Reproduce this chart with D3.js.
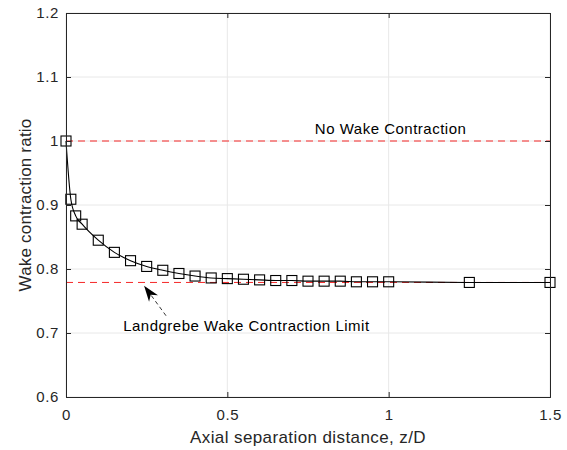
<!DOCTYPE html>
<html>
<head>
<meta charset="utf-8">
<script src="https://cdn.jsdelivr.net/npm/d3@7"></script>
<style>
  body { margin: 0; background: #fff; }
  svg text { font-family: "Liberation Sans", Arial, Helvetica, sans-serif; }
</style>
</head>
<body>
<div id="chart"></div>
<script>
// values
const zD = [0, 0.015, 0.03, 0.05, 0.1, 0.15, 0.2, 0.25, 0.3, 0.35, 0.4, 0.45, 0.5, 0.55, 0.6,
            0.65, 0.7, 0.75, 0.8, 0.85, 0.9, 0.95, 1.0, 1.25, 1.5];
const ratio = [1.0, 0.909, 0.883, 0.870, 0.845, 0.826, 0.813, 0.804, 0.798, 0.793, 0.789, 0.786,
               0.785, 0.784, 0.783, 0.782, 0.782, 0.781, 0.781, 0.781, 0.780, 0.780, 0.780, 0.779, 0.779];
const noContraction = 1.0;
const landgrebeLimit = 0.779;
const xTicks = [0, 0.5, 1, 1.5];
const yTicks = [0.6, 0.7, 0.8, 0.9, 1.0, 1.1, 1.2];

const W = 567, H = 450;
const margin = {top: 13, right: 17, bottom: 53, left: 66};
const w = W - margin.left - margin.right;
const h = H - margin.top - margin.bottom;

const svg = d3.select("#chart").append("svg")
  .attr("width", W).attr("height", H);
const g = svg.append("g").attr("transform", `translate(${margin.left},${margin.top})`);

const x = d3.scaleLinear().domain([0, 1.5]).range([0, w]);
const y = d3.scaleLinear().domain([0.6, 1.2]).range([h, 0]);

// grid
g.append("g").selectAll("line").data(xTicks).join("line")
  .attr("x1", d => x(d)).attr("x2", d => x(d)).attr("y1", 0).attr("y2", h)
  .attr("stroke", "#e8e8e8").attr("stroke-width", 1);
g.append("g").selectAll("line").data(yTicks).join("line")
  .attr("x1", 0).attr("x2", w).attr("y1", d => y(d)).attr("y2", d => y(d))
  .attr("stroke", "#e8e8e8").attr("stroke-width", 1);

// reference lines
[noContraction, landgrebeLimit].forEach(v => {
  g.append("line")
    .attr("x1", 0).attr("x2", w).attr("y1", y(v)).attr("y2", y(v))
    .attr("stroke", "#f52828").attr("stroke-width", 1)
    .attr("stroke-dasharray", "7,5");
});

// data line
g.append("path").datum(zD.map((d, i) => [d, ratio[i]]))
  .attr("fill", "none").attr("stroke", "#000").attr("stroke-width", 1.1)
  .attr("d", d3.line().x(d => x(d[0])).y(d => y(d[1])).curve(d3.curveMonotoneX));

// markers
const ms = 10;
g.append("g").selectAll("rect").data(zD).join("rect")
  .attr("x", d => x(d) - ms / 2).attr("y", (d, i) => y(ratio[i]) - ms / 2)
  .attr("width", ms).attr("height", ms)
  .attr("fill", "none").attr("stroke", "#000").attr("stroke-width", 1.1);

// axes (box with inward ticks)
const axCol = "#262626";
const tickLen = 5;
const xAxis = g.append("g").attr("transform", `translate(0,${h})`)
  .call(d3.axisBottom(x).tickValues(xTicks).tickSize(-tickLen).tickPadding(12).tickFormat(d3.format("")));
const yAxis = g.append("g")
  .call(d3.axisLeft(y).tickValues(yTicks).tickSize(-tickLen).tickPadding(7).tickFormat(d3.format("")));
const xTop = g.append("g")
  .call(d3.axisTop(x).tickValues(xTicks).tickSize(-tickLen).tickFormat(""));
const yRight = g.append("g").attr("transform", `translate(${w},0)`)
  .call(d3.axisRight(y).tickValues(yTicks).tickSize(-tickLen).tickFormat(""));
[xAxis, yAxis, xTop, yRight].forEach(a => {
  a.select(".domain").attr("stroke", axCol);
  a.selectAll(".tick line").attr("stroke", axCol);
  a.selectAll(".tick text").attr("fill", axCol)
    .style("font-size", "15px").style("letter-spacing", "0.6px");
});

// axis labels
svg.append("text")
  .attr("x", margin.left + w / 2).attr("y", 443)
  .attr("text-anchor", "middle").attr("fill", axCol)
  .style("font-size", "17px").style("letter-spacing", "0.4px")
  .text("Axial separation distance, z/D");
svg.append("text")
  .attr("transform", `translate(31,${margin.top + h / 2}) rotate(-90)`)
  .attr("text-anchor", "middle").attr("fill", axCol)
  .style("font-size", "17px").style("letter-spacing", "0.2px")
  .text("Wake contraction ratio");

// annotations
g.append("text")
  .attr("x", x(1.006)).attr("y", y(noContraction) - 7)
  .attr("text-anchor", "middle").attr("fill", "#000")
  .style("font-size", "15px").style("letter-spacing", "0.5px")
  .text("No Wake Contraction");
g.append("text")
  .attr("x", x(0.559)).attr("y", y(0.70) - 2)
  .attr("text-anchor", "middle").attr("fill", "#000")
  .style("font-size", "15px").style("letter-spacing", "0.5px")
  .text("Landgrebe Wake Contraction Limit");

// arrow
const tip = [x(0.242), y(0.774)];
const tail = [x(0.31), y(0.727)];
const ang = Math.atan2(tail[1] - tip[1], tail[0] - tip[0]);
const L = 16, hw = 5.5;
const bx = tip[0] + L * Math.cos(ang), by = tip[1] + L * Math.sin(ang);
const mx = tip[0] + L * 0.7 * Math.cos(ang), my = tip[1] + L * 0.7 * Math.sin(ang);
g.append("line")
  .attr("x1", tail[0]).attr("y1", tail[1]).attr("x2", mx).attr("y2", my)
  .attr("stroke", "#000").attr("stroke-width", 0.8).attr("stroke-dasharray", "4,3");
g.append("path")
  .attr("d", `M${tip[0]},${tip[1]}L${bx - hw * Math.sin(ang)},${by + hw * Math.cos(ang)}L${mx},${my}L${bx + hw * Math.sin(ang)},${by - hw * Math.cos(ang)}Z`)
  .attr("fill", "#000");
</script>
</body>
</html>
